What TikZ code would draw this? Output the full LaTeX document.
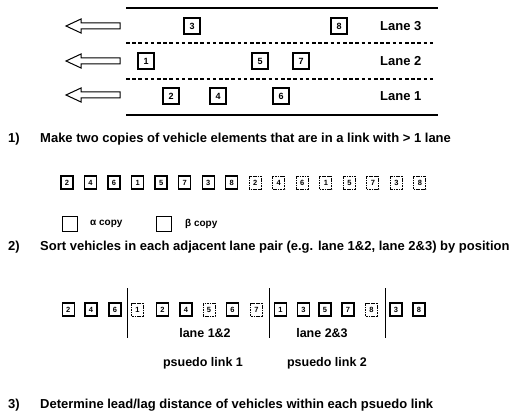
\documentclass[tikz,border=0pt]{standalone}
\usepackage{fontspec}
\setmainfont{Liberation Sans}
\begin{document}
\begin{tikzpicture}[x=1pt,y=-1pt,
  veh/.style={draw,line width=1.4pt,minimum width=16pt,minimum height=16pt,inner sep=0pt,font=\fontsize{9}{9}\selectfont\bfseries},
  ca/.style={draw,line width=1.3pt,minimum width=12pt,minimum height=13pt,inner sep=0pt,font=\fontsize{7.5}{7.5}\selectfont\bfseries},
  cb/.style={ca,line width=1pt,dash pattern=on 1.2pt off 0.5pt},
  road/.style={line width=1.3pt},
  lanediv/.style={line width=1.1pt,dash pattern=on 3.6pt off 2.6pt},
  hollow/.style={line width=1pt,line join=miter},
  lanelbl/.style={anchor=west,inner sep=0pt,font=\fontsize{13}{13}\selectfont\bfseries},
  txt/.style={anchor=west,inner sep=0pt,font=\fontsize{13}{13}\selectfont\bfseries},
  lbl/.style={inner sep=0pt,font=\fontsize{12.5}{12.5}\selectfont\bfseries},
  leg/.style={anchor=west,inner sep=0pt,font=\fontsize{10}{10}\selectfont\bfseries},
  sep/.style={line width=0.9pt}]
\useasboundingbox (0,0) rectangle (526,414);
% road
\draw[road] (126,8) -- (438,8);
\draw[road] (126,115) -- (438,115);
\draw[lanediv] (126,43) -- (434,43);
\draw[lanediv] (126,79) -- (434,79);
% direction arrows
\foreach \yy in {26,61,95}{
  \draw[hollow] (66,\yy) -- (81,\yy-7) -- (81,\yy-3) -- (120,\yy-3) -- (120,\yy+3) -- (81,\yy+3) -- (81,\yy+7) -- cycle;
}
% lane labels
\node[lanelbl] (l3) at (380,26) {Lane 3};
\node[lanelbl] (l2) at (380,61) {Lane 2};
\node[lanelbl] (l1) at (380,96) {Lane 1};
% vehicles
\node[veh] (v3) at (192,26) {3};
\node[veh] (v8) at (339,26) {8};
\node[veh] (v1) at (146,61) {1};
\node[veh] (v5) at (260,61) {5};
\node[veh] (v7) at (301,61) {7};
\node[veh] (v2) at (171,96) {2};
\node[veh] (v4) at (218,96) {4};
\node[veh] (v6) at (281,96) {6};
% step 1
\node[txt] (n1) at (8,139) {1)};
\node[txt] (t1) at (40,139) {Make two copies of vehicle elements that are in a link with > 1 lane};
\foreach \v [count=\i from 0] in {2,4,6,1,5,7,3,8}{
  \node[ca] (a\i) at (67+23.53*\i,182.5) {\v};
}
\foreach \v [count=\i from 8] in {2,4,6,1,5,7,3,8}{
  \node[cb] (b\i) at (67+23.53*\i,182.5) {\v};
}
% legend
\node[draw,line width=1.4pt,minimum width=15pt,minimum height=15pt,inner sep=0pt] (la) at (70,224) {};
\node[leg] (lat) at (90,224) {α copy};
\node[draw,line width=1.2pt,minimum width=15pt,minimum height=15pt,inner sep=0pt] (lb) at (164,224) {};
\node[leg] (lbt) at (185,224) {β copy};
% step 2
\node[txt] (n2) at (8,247) {2)};
\node[txt] (t2) at (40,247) {Sort vehicles in each adjacent lane pair (e.g. lane 1\&2, lane 2\&3) by position};
\node[ca] (s0) at (68.3,309.5) {2};
\node[ca] (s1) at (91,309.5) {4};
\node[ca] (s2) at (115,309.5) {6};
\node[cb] (s3) at (137.5,309.5) {1};
\node[ca] (s4) at (162.5,309.5) {2};
\node[ca] (s5) at (186,309.5) {4};
\node[cb] (s6) at (209,309.5) {5};
\node[ca] (s7) at (232.5,309.5) {6};
\node[cb] (s8) at (256.5,309.5) {7};
\node[ca] (s9) at (280.5,309.5) {1};
\node[ca] (s10) at (303.5,309.5) {3};
\node[ca] (s11) at (325,309.5) {5};
\node[ca] (s12) at (348,309.5) {7};
\node[cb] (s13) at (371.5,309.5) {8};
\node[ca] (s14) at (396,309.5) {3};
\node[ca] (s15) at (419,309.5) {8};
\coordinate (p1t) at (127,288); \coordinate (p1b) at (127,338);
\coordinate (p2t) at (269,288); \coordinate (p2b) at (269,338);
\coordinate (p3t) at (385,288); \coordinate (p3b) at (385,338);
\draw[sep] (p1t) -- (p1b);
\draw[sep] (p2t) -- (p2b);
\draw[sep] (p3t) -- (p3b);
\node[lbl] (ln12) at (205,333) {lane 1\&2};
\node[lbl] (ln23) at (322,333) {lane 2\&3};
\node[lbl] (ps1) at (203,363) {psuedo link 1};
\node[lbl] (ps2) at (327,363) {psuedo link 2};
% step 3
\node[txt] (n3) at (8,405) {3)};
\node[txt] (t3) at (40,405) {Determine lead/lag distance of vehicles within each psuedo link};
\end{tikzpicture}
\end{document}
